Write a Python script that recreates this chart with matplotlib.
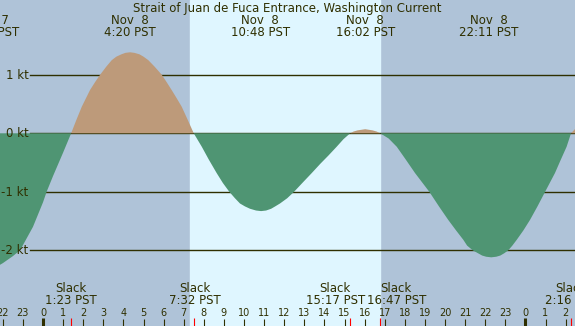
import matplotlib
matplotlib.use("Agg")
import matplotlib.pyplot as plt

# current speed (kt), hours from midnight Nov 8
curve_hours = [-2.3, -2.0, -1.5, -1.14, -0.5, 0.0, 0.18, 0.5, 1.0, 1.40, 1.65, 1.93, 2.34,
               2.6, 2.84, 3.15, 3.42, 3.65, 3.9, 4.1, 4.33, 4.55, 4.8, 5.0, 5.24, 5.55,
               5.91, 6.15, 6.40, 6.65, 6.90, 7.2, 7.50, 7.90, 8.25, 8.64, 8.95, 9.27, 9.55,
               9.80, 10.05, 10.3, 10.6, 10.85, 11.1, 11.35, 11.55, 11.79, 12.15, 12.49,
               12.9, 13.37, 13.8, 14.2, 14.61, 14.95, 15.28, 15.45, 15.65, 16.03, 16.4,
               16.6, 16.78, 17.2, 17.60, 18.05, 18.51, 19.22, 19.7, 20.16, 20.55, 20.91,
               21.1, 21.38, 21.85, 22.05, 22.3, 22.55, 22.75, 22.95, 23.15, 23.35, 23.57,
               23.9, 24.23, 24.6, 24.98, 25.47, 25.75, 26.05, 26.27, 26.6]
curve_kt = [-2.28, -2.22, -2.10, -2.0, -1.60, -1.18, -1.0, -0.73, -0.33, 0.0, 0.22, 0.455,
            0.74, 0.88, 1.0, 1.14, 1.25, 1.31, 1.35, 1.375, 1.385, 1.375, 1.35, 1.31, 1.25,
            1.14, 1.0, 0.875, 0.74, 0.60, 0.455, 0.23, 0.0, -0.23, -0.45, -0.68, -0.85,
            -1.0, -1.11, -1.20, -1.25, -1.29, -1.32, -1.33, -1.32, -1.29, -1.25, -1.20,
            -1.11, -1.0, -0.85, -0.68, -0.52, -0.38, -0.23, -0.10, 0.0, 0.03, 0.05, 0.07,
            0.05, 0.03, 0.0, -0.09, -0.23, -0.45, -0.68, -1.0, -1.25, -1.48, -1.66, -1.82,
            -1.92, -2.0, -2.09, -2.11, -2.12, -2.11, -2.09, -2.05, -2.0, -1.92, -1.82,
            -1.66, -1.48, -1.25, -1.0, -0.68, -0.46, -0.23, 0.0, 0.12]

# max/min labels along the top
peak_hours = [-2.66, 4.33, 10.8, 16.03, 22.18]
peak_days = ["Nov  7", "Nov  8", "Nov  8", "Nov  8", "Nov  8"]
peak_times = ["21:20 PST", "4:20 PST", "10:48 PST", "16:02 PST", "22:11 PST"]

# slack labels along the bottom
slack_hours = [1.383, 7.533, 15.283, 16.783, 26.267]
slack_times = ["1:23 PST", "7:32 PST", "15:17 PST", "16:47 PST", "2:16 PST"]
slack_nudge_px = [0, 0, -15, 16, 0]

sunrise, sunset = 7.31, 16.77
levels = [1, 0, -1, -2]
level_labels = ["1 kt", "0 kt", "-1 kt", "-2 kt"]
hour_ticks = list(range(-2, 27))

night = "#afc3d8"
day = "#dff6ff"
flood = "#bd9a7a"
ebb = "#4f9573"
ink = "#2f2f00"

W, H = 575, 326
x0, pxh = 43, 20.1      # pixel of midnight, pixels per hour
y0, pxk = 133.3, 58.5   # pixel of 0 kt, pixels per knot

fig = plt.figure(figsize=(W / 100, H / 100), dpi=100)
ax = fig.add_axes([0, 0, 1, 1])
ax.set_xlim(-x0 / pxh, (W - x0) / pxh)
ax.set_ylim((y0 - H) / pxk, y0 / pxk)
ax.axis("off")
fig.patch.set_facecolor(night)
ax.axvspan(sunrise, sunset, color=day, zorder=0)

# level lines start right of the labels
xstart = (30 - x0) / pxh
for lv in levels:
    ax.plot([xstart, ax.get_xlim()[1]], [lv, lv], color=ink, lw=1, zorder=1)

ax.fill_between(curve_hours, curve_kt, 0, where=[v >= 0 for v in curve_kt],
                interpolate=True, color=flood, lw=0, zorder=2)
ax.fill_between(curve_hours, curve_kt, 0, where=[v <= 0 for v in curve_kt],
                interpolate=True, color=ebb, lw=0, zorder=2)

fs = 8.5
tx = ax.get_xaxis_transform()

def yf(py):
    return 1 - py / H

for lv, lab in zip(levels, level_labels):
    ax.text((28.5 - x0) / pxh, lv - 4 / pxk, lab, ha="right", va="baseline",
            fontsize=fs, color=ink, zorder=3)

ax.text(0.5, yf(12), "Strait of Juan de Fuca Entrance, Washington Current",
        transform=ax.transAxes, ha="center", va="baseline", fontsize=fs, color=ink)

for t, d, s in zip(peak_hours, peak_days, peak_times):
    ax.text(t, yf(24), d, transform=tx, ha="center", va="baseline", fontsize=fs, color=ink)
    ax.text(t, yf(36), s, transform=tx, ha="center", va="baseline", fontsize=fs, color=ink)

for t, s, dx in zip(slack_hours, slack_times, slack_nudge_px):
    for txt, py in (("Slack", 292), (s, 303.5)):
        ax.annotate(txt, xy=(t, yf(py)), xycoords=tx, xytext=(dx * 0.72, 0),
                    textcoords="offset points", ha="center", va="baseline",
                    fontsize=fs, color=ink)

for h in hour_ticks:
    ax.text(h, yf(316), str(h % 24), transform=tx, ha="center", va="baseline",
            fontsize=7, color=ink)
    if h % 24 == 0:
        ax.plot([h, h], [0, yf(318)], transform=tx, color=ink, lw=2.2,
                solid_capstyle="butt", zorder=4)
    else:
        ax.plot([h, h], [0, yf(319)], transform=tx, color=ink, lw=0.8,
                solid_capstyle="butt", zorder=4)

for t in slack_hours:
    ax.plot([t, t], [0, yf(318)], transform=tx, color="red", lw=0.8,
            solid_capstyle="butt", zorder=4)

fig.savefig("out.png", dpi=100, facecolor=night)
